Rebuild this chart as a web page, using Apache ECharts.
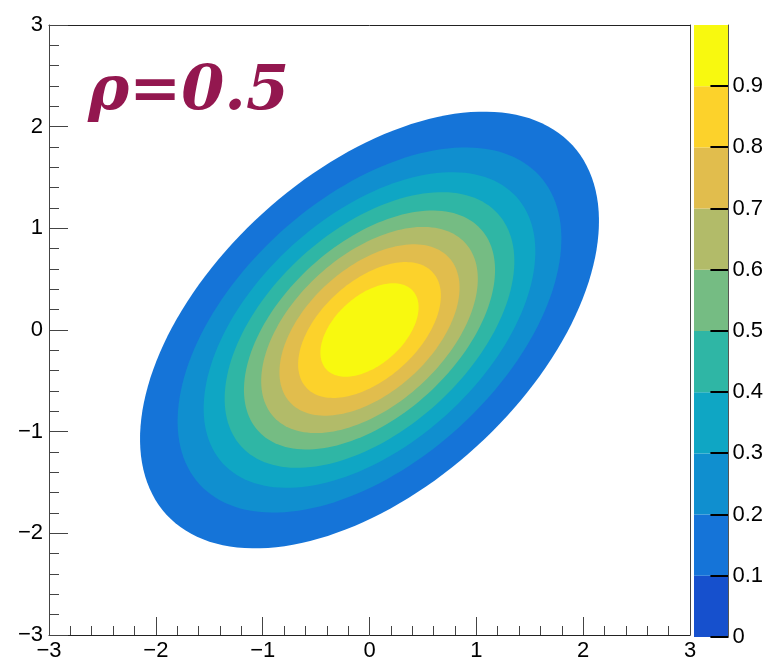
<!DOCTYPE html>
<html>
<head>
<meta charset="utf-8">
<style>
  html, body { margin: 0; padding: 0; background: #fff; }
  #chart { width: 766px; height: 662px; }
</style>
<script src="https://cdn.jsdelivr.net/npm/echarts@6/dist/echarts.min.js"></script>
</head>
<body>
<div id="chart"></div>
<script>
// Contour levels of the normalised bivariate density (peak = 1)
const levels = [0.1, 0.2, 0.3, 0.4, 0.5, 0.6, 0.7, 0.8, 0.9];
// Half-lengths of each contour along the x=y diagonal and across it
const semiMajor = [2.63, 2.20, 1.90, 1.66, 1.44, 1.24, 1.03, 0.82, 0.56];
const semiMinor = [1.52, 1.27, 1.10, 0.96, 0.83, 0.72, 0.60, 0.47, 0.33];
// Palette bands 0-0.1, 0.1-0.2, ... 0.9-1.0
const bandEdges = [0, 0.1, 0.2, 0.3, 0.4, 0.5, 0.6, 0.7, 0.8, 0.9, 1.0];
const bandColors = ['#1650cd', '#1574d8', '#108fcf', '#0fa6c4', '#2fb6a5',
                    '#75bc83', '#b2bb69', '#e1bd4d', '#fcd22b', '#f8f90f'];
// Tick values on the colour scale
const scaleTicks = [0, 0.1, 0.2, 0.3, 0.4, 0.5, 0.6, 0.7, 0.8, 0.9];
const axisRange = [-3, 3];
const titleText = 'ρ=0.5';

const minus = v => String(v).replace('-', '\u2212');

const contourData = levels.map((L, i) => [i, semiMajor[i], semiMinor[i], L]);
const bandData = bandColors.map((c, i) => [i, bandEdges[i], bandEdges[i + 1]]);
const tickData = scaleTicks.map(v => [1, v]);

const tickFont = { fontFamily: 'Liberation Sans', fontSize: 22, color: '#000' };
const SCALE_TICK_LEN = 18;

const chart = echarts.init(document.getElementById('chart'), null, { renderer: 'canvas' });
chart.setOption({
  animation: false,
  backgroundColor: '#fff',
  grid: [
    { left: 49, right: 76, top: 25, bottom: 25 },
    { left: 694, width: 35, top: 25, bottom: 25 }
  ],
  xAxis: [
    {
      gridIndex: 0, type: 'value', min: axisRange[0], max: axisRange[1], interval: 1,
      position: 'bottom',
      axisLine: { show: true, onZero: false, lineStyle: { color: '#222', width: 1 } },
      axisTick: { show: true, inside: true, length: 18, lineStyle: { color: '#444' } },
      minorTick: { show: true, splitNumber: 5, length: 9, lineStyle: { color: '#444' } },
      axisLabel: Object.assign({ margin: 5, formatter: minus }, tickFont),
      splitLine: { show: false }, z: 10
    },
    {
      gridIndex: 0, type: 'value', min: axisRange[0], max: axisRange[1], position: 'top',
      axisLine: { show: true, onZero: false, lineStyle: { color: '#222', width: 1 } },
      axisTick: { show: false }, axisLabel: { show: false }, splitLine: { show: false }
    },
    {
      gridIndex: 1, type: 'value', min: 0, max: 1, show: false
    }
  ],
  yAxis: [
    {
      gridIndex: 0, type: 'value', min: axisRange[0], max: axisRange[1], interval: 1,
      position: 'left',
      axisLine: { show: true, onZero: false, lineStyle: { color: '#444', width: 1 } },
      axisTick: { show: true, inside: true, length: 19, lineStyle: { color: '#444' } },
      minorTick: { show: true, splitNumber: 5, length: 10, lineStyle: { color: '#444' } },
      axisLabel: Object.assign({ margin: 6, formatter: minus }, tickFont),
      splitLine: { show: false }, z: 10
    },
    {
      gridIndex: 0, type: 'value', min: axisRange[0], max: axisRange[1], position: 'right',
      axisLine: { show: true, onZero: false, lineStyle: { color: '#444', width: 1 } },
      axisTick: { show: false }, axisLabel: { show: false }, splitLine: { show: false }
    },
    {
      gridIndex: 1, type: 'value', min: 0, max: 1, interval: 0.1, position: 'right',
      axisLine: { show: true, onZero: false, lineStyle: { color: '#555', width: 1 } },
      axisTick: { show: false },
      axisLabel: Object.assign({
        margin: 4,
        formatter: v => (Math.abs(v - 1) < 1e-9 ? '' : String(+v.toFixed(1)))
      }, tickFont),
      splitLine: { show: false }, z: 10
    }
  ],
  series: [
    {
      // filled contour bands, outermost first
      type: 'custom',
      xAxisIndex: 0, yAxisIndex: 0,
      coordinateSystem: 'cartesian2d',
      clip: true,
      encode: { x: 1, y: 2 },
      data: contourData,
      renderItem: function (params, api) {
        const i = api.value(0);
        const a = api.value(1);
        const b = api.value(2);
        const pts = [];
        const n = 160;
        for (let k = 0; k < n; k++) {
          const t = 2 * Math.PI * k / n;
          const u = a * Math.cos(t);
          const v = b * Math.sin(t);
          pts.push(api.coord([(u + v) / Math.SQRT2, (u - v) / Math.SQRT2]));
        }
        return {
          type: 'polygon',
          shape: { points: pts },
          style: { fill: bandColors[i + 1], stroke: null }
        };
      },
      z: 2
    },
    {
      // colour scale
      type: 'custom',
      xAxisIndex: 2, yAxisIndex: 2,
      coordinateSystem: 'cartesian2d',
      encode: { y: [1, 2] },
      data: bandData,
      renderItem: function (params, api) {
        const i = api.value(0);
        const p0 = api.coord([0, api.value(1)]);
        const p1 = api.coord([1, api.value(2)]);
        return {
          type: 'rect',
          shape: { x: p0[0], y: p1[1], width: p1[0] - p0[0], height: p0[1] - p1[1] },
          style: { fill: bandColors[i], stroke: null }
        };
      },
      z: 2
    },
    {
      // inward ticks on the right edge of the colour scale
      type: 'custom',
      xAxisIndex: 2, yAxisIndex: 2,
      coordinateSystem: 'cartesian2d',
      encode: { x: 0, y: 1 },
      data: tickData,
      renderItem: function (params, api) {
        const p = api.coord([api.value(0), api.value(1)]);
        const y = Math.round(p[1]) - 1;
        return {
          type: 'rect',
          shape: { x: p[0] - SCALE_TICK_LEN, y: y, width: SCALE_TICK_LEN, height: 2 },
          style: { fill: '#000', stroke: null }
        };
      },
      z: 6
    }
  ],
  graphic: [
    {
      type: 'text',
      left: 88, top: 62,
      style: {
        text: titleText,
        font: 'italic bold 62px "DejaVu Serif"',
        fill: '#93174f'
      },
      z: 20
    }
  ]
});
</script>
</body>
</html>
